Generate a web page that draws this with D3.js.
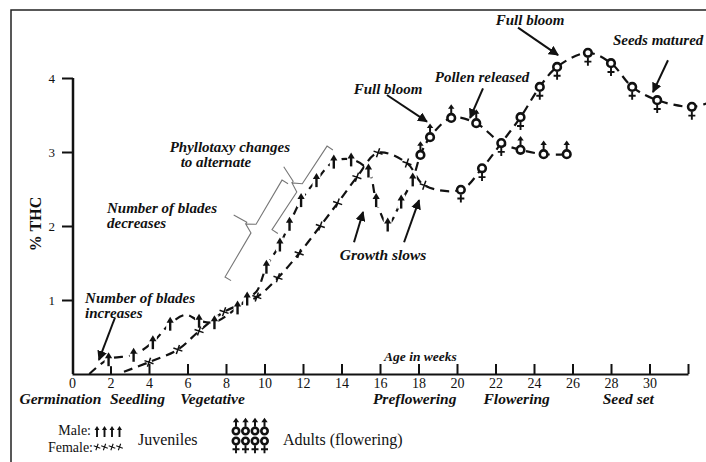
<!DOCTYPE html>
<html>
<head>
<meta charset="utf-8">
<script src="https://cdn.jsdelivr.net/npm/d3@7"></script>
</head>
<body style="margin:0; background:#fff">
<div id="main"></div>
<script>
var ctx = {
    w: 706,
    h: 462,
};

// male plants : age in weeks, % THC, marker ("" = none, "juv" = arrow, "adult" = male sign)
var maleWeeks = [0.9, 1.9, 3.2, 4.2, 5.1, 5.9, 6.6, 7.4, 8.6, 9.1, 9.6, 10.1, 10.8, 11.3, 11.9, 12.7, 13.6, 14.5, 15.4, 15.8, 16.4, 17.1, 17.7, 18.1, 18.6, 19.7, 21.0, 22.3, 23.3, 24.5, 25.7];
var maleTHC   = [0.0, 0.2, 0.26, 0.43, 0.68, 0.8, 0.72, 0.7, 0.9, 1.02, 1.12, 1.45, 1.75, 2.03, 2.35, 2.62, 2.87, 2.9, 2.75, 2.35, 2.02, 2.33, 2.63, 2.96, 3.2, 3.46, 3.39, 3.12, 3.03, 2.97, 2.97];
var maleStage = ["", "juv", "juv", "juv", "juv", "", "juv", "juv", "juv", "juv", "", "juv", "juv", "juv", "juv", "juv", "juv", "juv", "juv", "juv", "juv", "juv", "juv", "adult", "adult", "adult", "adult", "", "adult", "adult", "adult"];

// female plants
var femaleWeeks = [2.7, 4.0, 5.5, 6.6, 7.9, 9.6, 10.7, 11.8, 12.9, 13.8, 14.8, 15.9, 17.4, 18.3, 20.2, 21.3, 22.3, 23.3, 24.3, 25.2, 26.8, 28.0, 29.1, 30.4, 32.2, 33.0];
var femaleTHC   = [0.03, 0.16, 0.33, 0.58, 0.84, 1.04, 1.3, 1.63, 2.0, 2.31, 2.66, 2.99, 2.85, 2.55, 2.49, 2.78, 3.12, 3.47, 3.88, 4.15, 4.34, 4.2, 3.88, 3.7, 3.61, 3.66];
var femaleStage = ["", "juv", "juv", "juv", "juv", "juv", "juv", "juv", "juv", "juv", "juv", "juv", "juv", "juv", "adult", "adult", "adult", "adult", "adult", "adult", "adult", "adult", "adult", "adult", "adult", ""];

var weekTicks = [0, 2, 4, 6, 8, 10, 12, 14, 16, 18, 20, 22, 24, 26, 28, 30, 32];
var thcTicks = [1, 2, 3, 4];
var phaseNames = ["Germination", "Seedling", "Vegetative", "Preflowering", "Flowering", "Seed set"];
var phaseWeeks = [-0.6, 3.4, 7.3, 17.8, 23.1, 28.9];

var FONT = "Liberation Serif";

var x = d3.scaleLinear().domain([0, 32]).range([72, 688]);
var y = d3.scaleLinear().domain([0, 4]).range([374, 78]);

var svg = d3.select("#main").append("svg")
    .attr("width", ctx.w)
    .attr("height", ctx.h);

svg.append("defs").append("marker")
    .attr("id", "head")
    .attr("viewBox", "0 0 10 10")
    .attr("refX", 9).attr("refY", 5)
    .attr("markerWidth", 5).attr("markerHeight", 5)
    .attr("orient", "auto")
    .append("path").attr("d", "M0,0 L10,5 L0,10 z").attr("fill", "#111");

// frame (top + left only)
svg.append("path").attr("d", "M11,462 L11,10 L706,10")
    .attr("fill", "none").attr("stroke", "#222").attr("stroke-width", 1.5);

// axes
var xAxis = d3.axisBottom(x).tickValues(weekTicks).tickSize(-10).tickSizeOuter(0).tickPadding(4)
    .tickFormat(function(d){ return d == 32 ? "" : d; });
var gx = svg.append("g").attr("transform", "translate(0," + y(0) + ")").call(xAxis);
gx.select(".domain").attr("stroke", "#111").attr("stroke-width", 2);
gx.selectAll(".tick line").attr("stroke", "#111").attr("stroke-width", 2)
  .attr("opacity", function(d){ return d == 0 ? 0 : 1; });
gx.selectAll(".tick text").attr("font-size", 14).attr("fill", "#111");

var yAxis = d3.axisLeft(y).tickValues(thcTicks).tickSize(11).tickSizeOuter(0).tickPadding(7)
    .tickFormat(d3.format("d"));
var gy = svg.append("g").attr("transform", "translate(73,0)").call(yAxis);
gy.select(".domain").attr("stroke", "#111").attr("stroke-width", 2.5).attr("d", "M0," + y(4) + "V" + y(0));
gy.selectAll(".tick line").attr("stroke", "#111").attr("stroke-width", 2);
gy.selectAll(".tick text").attr("font-size", 13).attr("fill", "#111");

svg.append("text").attr("transform", "translate(41,224) rotate(-90)")
    .attr("text-anchor", "middle").attr("font-size", 16).attr("font-weight", "bold")
    .text("% THC");

svg.append("text").attr("x", x(18.1)).attr("y", y(0.23) + 4)
    .attr("text-anchor", "middle").attr("font-size", 13.5).attr("font-weight", "bold").attr("font-style", "italic")
    .text("Age in weeks");

svg.selectAll(".phase").data(phaseNames).enter().append("text")
    .attr("class", "phase")
    .attr("x", function(d, i){ return x(phaseWeeks[i]); })
    .attr("y", 404)
    .attr("text-anchor", "middle").attr("font-size", 15.5).attr("font-weight", "bold").attr("font-style", "italic")
    .text(function(d){ return d; });

// brackets (thin grey)
var brackets = [
    {a: [10.91, 2.62], b: [7.95, 1.31], p: [8.4, 2.15]},
    {a: [13.25, 3.08], b: [10.39, 1.95], p: [11.0, 2.8]}
];
brackets.forEach(function(br){
    var A = [x(br.a[0]), y(br.a[1])], B = [x(br.b[0]), y(br.b[1])], P = [x(br.p[0]), y(br.p[1])];
    var len = Math.hypot(B[0] - A[0], B[1] - A[1]);
    var u = [(B[0] - A[0]) / len, (B[1] - A[1]) / len];
    var n = [-u[1], u[0]];
    // normal toward the curve (away from the pointer)
    var M = [(A[0] + B[0]) / 2, (A[1] + B[1]) / 2];
    if ((P[0] - M[0]) * n[0] + (P[1] - M[1]) * n[1] > 0) { n = [-n[0], -n[1]]; }
    var s = 7;
    var pts = [
        [A[0] + n[0] * s, A[1] + n[1] * s], A,
        [M[0] - u[0] * 5, M[1] - u[1] * 5],
        [M[0] - n[0] * 9, M[1] - n[1] * 9],
        [M[0] + u[0] * 5, M[1] + u[1] * 5],
        B, [B[0] + n[0] * s, B[1] + n[1] * s]
    ];
    svg.append("path").attr("d", d3.line()(pts))
        .attr("fill", "none").attr("stroke", "#777").attr("stroke-width", 1.1);
    var T = [M[0] - n[0] * 9, M[1] - n[1] * 9];
    svg.append("path").attr("d", d3.line()([P, [T[0] - u[0] * 2, T[1] - u[1] * 2], T]))
        .attr("fill", "none").attr("stroke", "#777").attr("stroke-width", 1.1);
});

// series lines
var line = d3.line()
    .x(function(d){ return x(d[0]); })
    .y(function(d){ return y(d[1]); })
    .curve(d3.curveCatmullRom.alpha(0.5));

var maleData = maleWeeks.map(function(w, i){ return [w, maleTHC[i], maleStage[i]]; });
var femaleData = femaleWeeks.map(function(w, i){ return [w, femaleTHC[i], femaleStage[i]]; });

[maleData, femaleData].forEach(function(data){
    svg.append("path").datum(data).attr("d", line)
        .attr("fill", "none").attr("stroke", "#111").attr("stroke-width", 2.2)
        .attr("stroke-dasharray", "9,6");
});

// marker glyphs
function arrowUp(g, cx, top, bottom, hw, hh, sw){
    g.append("line").attr("x1", cx).attr("x2", cx).attr("y1", bottom).attr("y2", top + hh - 1)
        .attr("stroke", "#111").attr("stroke-width", sw);
    g.append("path").attr("d", "M" + (cx - hw) + "," + (top + hh) + " L" + cx + "," + top + " L" + (cx + hw) + "," + (top + hh) + " z")
        .attr("fill", "#111");
}
function crossMark(g, cx, cy, r, sw){
    g.append("path")
        .attr("d", "M" + (cx - r) + "," + (cy - r * 0.35) + " L" + (cx + r) + "," + (cy + r * 0.35) +
                   " M" + (cx + r * 0.35) + "," + (cy - r) + " L" + (cx - r * 0.35) + "," + (cy + r))
        .attr("stroke", "#111").attr("stroke-width", sw).attr("fill", "none");
}
function maleSign(g, cx, cy, r){
    g.append("circle").attr("cx", cx).attr("cy", cy).attr("r", r)
        .attr("fill", "#fff").attr("stroke", "#111").attr("stroke-width", 2.6);
    arrowUp(g, cx, cy - r - 10, cy - r - 1, 3.2, 4.5, 2);
}
function femaleSign(g, cx, cy, r){
    g.append("circle").attr("cx", cx).attr("cy", cy).attr("r", r)
        .attr("fill", "#fff").attr("stroke", "#111").attr("stroke-width", 2.6);
    g.append("path")
        .attr("d", "M" + cx + "," + (cy + r + 1) + " V" + (cy + r + 9) + " M" + (cx - 3.5) + "," + (cy + r + 5) + " H" + (cx + 3.5))
        .attr("stroke", "#111").attr("stroke-width", 1.9).attr("fill", "none");
}

var gm = svg.append("g");
maleData.forEach(function(d){
    var cx = x(d[0]), cy = y(d[1]);
    if (d[2] == "juv") {
        gm.append("rect").attr("x", cx - 4).attr("y", cy - 7).attr("width", 8).attr("height", 14).attr("fill", "#fff");
        arrowUp(gm, cx, cy - 7, cy + 7, 3.6, 6, 2.4);
    } else if (d[2] == "adult") {
        maleSign(gm, cx, cy, 3.8);
    }
});
femaleData.forEach(function(d){
    var cx = x(d[0]), cy = y(d[1]);
    if (d[2] == "juv") {
        crossMark(gm, cx, cy, 4.5, 1.5);
    } else if (d[2] == "adult") {
        femaleSign(gm, cx, cy, 3.8);
    }
});

// annotations
var notes = [
    {t: ["Full bloom"], w: 23.8, v: 4.78, a: "middle"},
    {t: ["Seeds matured"], w: 30.45, v: 4.51, a: "middle"},
    {t: ["Pollen released"], w: 21.3, v: 4.01, a: "middle"},
    {t: ["Full bloom"], w: 16.42, v: 3.85, a: "middle"},
    {t: ["Phyllotaxy changes", "to alternate"], w: 8.2, v: 3.07, a: "middle"},
    {t: ["Number of blades", "decreases"], w: 1.82, v: 2.25, a: "start"},
    {t: ["Number of blades", "increases"], w: 0.68, v: 1.03, a: "start"}
];
notes.forEach(function(nt){
    var tx = svg.append("text").attr("text-anchor", nt.a)
        .attr("font-size", 15).attr("font-weight", "bold").attr("font-style", "italic");
    nt.t.forEach(function(s, i){
        tx.append("tspan").attr("x", x(nt.w) + (nt.a == "middle" && i == 1 ? -14 : 0))
            .attr("y", y(nt.v) + 5 + i * 15).text(s);
    });
});
svg.append("text").attr("x", x(16.16)).attr("y", y(1.61) + 5)
    .attr("text-anchor", "middle").attr("font-size", 15.5).attr("font-weight", "bold").attr("font-style", "italic")
    .text("Growth slows");

var pointers = [
    [23.17, 4.68, 25.25, 4.31],
    [30.96, 4.24, 30.18, 3.81],
    [21.35, 3.86, 20.68, 3.46],
    [16.36, 3.77, 18.44, 3.41],
    [2.23, 0.76, 1.4, 0.19],
    [14.65, 1.78, 15.12, 2.19],
    [17.25, 1.78, 18.03, 2.35]
];
svg.selectAll(".ptr").data(pointers).enter().append("line")
    .attr("class", "ptr")
    .attr("x1", function(d){ return x(d[0]); }).attr("y1", function(d){ return y(d[1]); })
    .attr("x2", function(d){ return x(d[2]); }).attr("y2", function(d){ return y(d[3]); })
    .attr("stroke", "#111").attr("stroke-width", 2).attr("marker-end", "url(#head)");

// legend
var lg = svg.append("g");
lg.append("text").attr("x", 91).attr("y", 435).attr("text-anchor", "end").attr("font-size", 14).text("Male:");
lg.append("text").attr("x", 93).attr("y", 452).attr("text-anchor", "end").attr("font-size", 14).text("Female:");
[0, 1, 2, 3].forEach(function(i){
    arrowUp(lg, 97 + i * 7.5, 426, 437, 2.5, 4, 1.9);
    crossMark(lg, 97 + i * 7.5, 447, 3.3, 1.1);
    maleSign(lg, 236 + i * 9.5, 431, 3.2);
    femaleSign(lg, 236 + i * 9.5, 441, 3.2);
});
lg.append("text").attr("x", 138).attr("y", 445).attr("font-size", 16).text("Juveniles");
lg.append("text").attr("x", 283).attr("y", 445).attr("font-size", 16).text("Adults (flowering)");

// serif everywhere
svg.selectAll("text").attr("font-family", FONT).attr("fill", "#111");
</script>
</body>
</html>
